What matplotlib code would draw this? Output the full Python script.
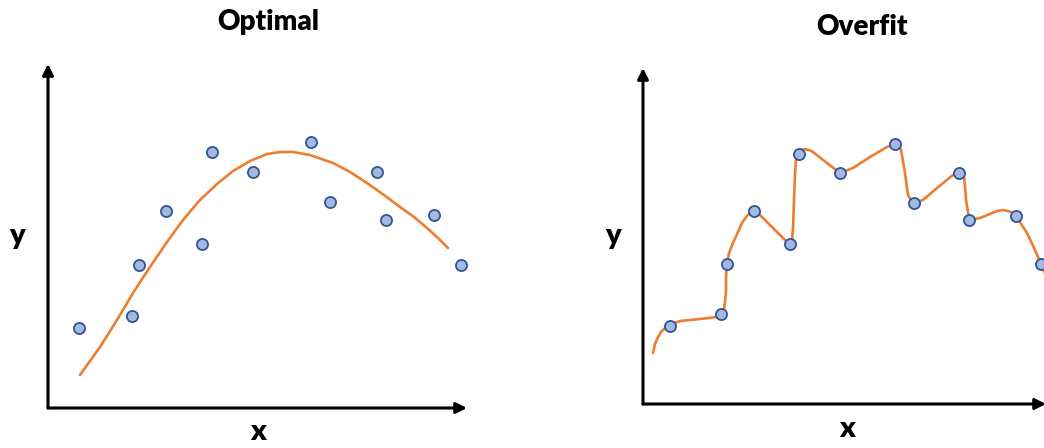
import matplotlib.pyplot as plt

# left panel: points and smooth fit (units = px from axis origin)
opt_x = [31, 84, 91, 118, 154, 164, 205, 263, 282, 329, 338, 386, 413]
opt_y = [80, 92, 143, 197, 164, 256, 236, 266, 206, 236, 188, 193, 143]
opt_fit_x = [32, 52, 69, 85, 102, 119, 135, 152, 169, 185, 202, 219, 232, 245,
             262, 285, 302, 319, 336, 352, 366, 379, 390, 400]
opt_fit_y = [33, 61, 88, 115, 141, 166, 188, 208, 224, 237, 247, 254, 256, 256,
             253, 245, 236, 225, 213, 201, 191, 180, 170, 160]

# right panel: points and wiggly overfit curve
ovf_x = [27, 78, 84, 111, 147, 156, 197, 252, 271, 316, 326, 373, 398]
ovf_y = [78, 90, 140, 193, 160, 250, 231, 260, 201, 231, 184, 188, 140]
ovf_fit_x = [10, 12, 15, 18, 22, 27, 37, 57, 74, 78, 81, 82, 83, 83, 84, 86, 90,
             95, 99, 103, 107, 111, 117, 130, 144, 147, 149, 150, 151, 152, 153,
             156, 159, 162, 166, 170, 184, 197, 210, 227, 244, 252, 256, 258,
             260, 262, 265, 268, 271, 280, 294, 310, 316, 319, 321, 322, 323,
             325, 326, 337, 354, 360, 365, 370, 373, 384, 392, 398, 402]
ovf_fit_y = [51, 60, 67, 72, 76, 79, 83, 85, 87, 90, 95, 102, 111, 127, 140, 151,
             161, 172, 181, 187, 191, 193, 189, 176, 162, 160, 165, 175, 204,
             230, 244, 250, 254, 255, 254, 252, 241, 231, 236, 247, 257, 260,
             258, 254, 243, 231, 209, 204, 201, 204, 216, 229, 231, 230, 227,
             218, 204, 192, 184, 186, 193, 194, 193, 191, 188, 171, 154, 140,
             131]

W, H = 1044, 448
line_c = '#ed7d31'
face_c = '#a5b9e0'
edge_c = '#2f5597'

plt.rcParams['font.family'] = ['Lato', 'DejaVu Sans']

fig = plt.figure(figsize=(W / 100, H / 100), dpi=100)


def panel(rect, xs, ys, fx, fy, xmax, ymax):
    ax = fig.add_axes(rect)
    ax.set_xlim(0, xmax)
    ax.set_ylim(0, ymax)
    ax.axis('off')
    arrow = dict(arrowstyle='-|>', lw=2.2, color='black', mutation_scale=16,
                 shrinkA=0, shrinkB=0)
    ax.annotate('', xy=(0, 1), xytext=(0, 0), xycoords='axes fraction',
                arrowprops=arrow)
    ax.annotate('', xy=(1, 0), xytext=(0, 0), xycoords='axes fraction',
                arrowprops=arrow)
    ax.plot(fx, fy, color=line_c, lw=1.9, solid_joinstyle='round',
            solid_capstyle='round', clip_on=False, zorder=2)
    ax.plot(xs, ys, 'o', ms=8, mfc=face_c, mec=edge_c, mew=1.3,
            clip_on=False, zorder=3)
    return ax


panel([48 / W, 40 / H, 419 / W, 344 / H], opt_x, opt_y, opt_fit_x, opt_fit_y,
      419, 344)
panel([643 / W, 44 / H, 403 / W, 336 / H], ovf_x, ovf_y, ovf_fit_x, ovf_fit_y,
      403, 336)

tkw = dict(ha='center', va='center', fontweight='heavy')
fig.text(268 / W, 1 - 22 / H, 'Optimal', fontsize=20, **tkw)
fig.text(862 / W, 1 - 27 / H, 'Overfit', fontsize=20, **tkw)
fig.text(17 / W, 1 - 236 / H, 'y', fontsize=21, **tkw)
fig.text(613 / W, 1 - 236 / H, 'y', fontsize=21, **tkw)
fig.text(258 / W, 1 - 432 / H, 'x', fontsize=21, **tkw)
fig.text(847 / W, 1 - 429 / H, 'x', fontsize=21, **tkw)

fig.savefig('out.png', dpi=100)
